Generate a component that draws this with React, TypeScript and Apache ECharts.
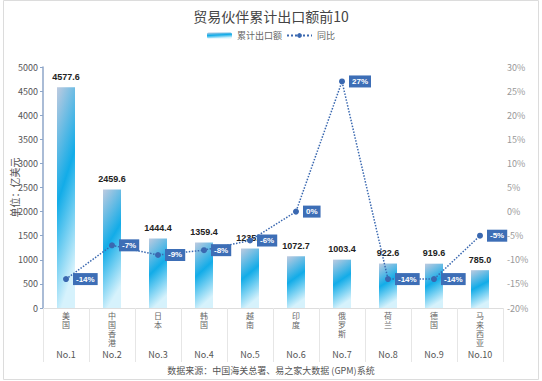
import React, { useEffect, useRef } from "react";
import * as echarts from "echarts";

const countries = ["美国", "中国香港", "日本", "韩国", "越南", "印度", "俄罗斯", "荷兰", "德国", "马来西亚"];
const ranks = ["No.1", "No.2", "No.3", "No.4", "No.5", "No.6", "No.7", "No.8", "No.9", "No.10"];
const exportValues = [4577.6, 2459.6, 1444.4, 1359.4, 1235.6, 1072.7, 1003.4, 922.6, 919.6, 785.0];
const yoyValues = [-14, -7, -9, -8, -6, 0, 27, -14, -14, -5];

export default function App() {
  const ref = useRef<HTMLDivElement>(null);
  useEffect(() => {
    document.body.style.margin = "0";
    const chart = echarts.init(ref.current!, undefined, { renderer: "svg" });
    const font = "'Noto Sans CJK SC', 'Noto Sans', sans-serif";
    const barGrad = new echarts.graphic.LinearGradient(0, 0, 0.25, 1, [
      { offset: 0, color: "#bfcbe0" },
      { offset: 0.5, color: "#12ace8" },
      { offset: 1, color: "#d6f2fc" },
    ]);
    chart.setOption({
      animation: false,
      textStyle: { fontFamily: font },
      title: {
        text: "贸易伙伴累计出口额前10",
        left: "center",
        top: 4,
        textStyle: { fontSize: 14, fontWeight: "normal", color: "#444", fontFamily: font },
      },
      legend: {
        top: 26,
        left: "center",
        itemWidth: 25,
        itemHeight: 6,
        itemGap: 4,
        textStyle: { fontSize: 9, color: "#666" },
        data: ["累计出口额", "同比"],
      },
      graphic: [
        {
          type: "rect",
          shape: { x: 3.5, y: 0.5, width: 535, height: 379 },
          style: { fill: "none", stroke: "#dcdcdc", lineWidth: 1 },
          silent: true,
        },
        {
          type: "text",
          left: "center",
          top: 366,
          style: {
            text: "数据来源：中国海关总署、易之家大数据 (GPM)系统",
            fontSize: 9,
            fill: "#555",
            fontFamily: font,
          },
        },
      ],
      grid: { left: 43, right: 39, top: 67, bottom: 73, outerBoundsMode: "none", containLabel: false },
      xAxis: [
        {
          type: "category",
          data: countries,
          axisLine: { lineStyle: { color: "#ddd" } },
          axisTick: { show: true, length: 54, lineStyle: { color: "#e6e6e6" } },
          axisLabel: {
            interval: 0,
            rotate: 0,
            hideOverlap: false,
            margin: 3,
            fontSize: 8,
            lineHeight: 9,
            color: "#666",
            verticalAlign: "top",
            formatter: (v: string) => v.split("").join("\n"),
          },
        },
        {
          type: "category",
          data: ranks,
          position: "bottom",
          offset: 40,
          axisLine: { show: false },
          axisTick: { show: false },
          axisLabel: { interval: 0, margin: 2, fontSize: 9, color: "#555" },
        },
      ],
      yAxis: [
        {
          type: "value",
          min: 0,
          max: 5000,
          interval: 500,
          name: "单位：亿美元",
          nameLocation: "middle",
          nameGap: 24,
          nameMoveOverlap: false,
          nameTextStyle: { fontSize: 10, color: "#555" },
          axisLine: { show: true, lineStyle: { color: "#8ea6c9", width: 1.5 } },
          axisTick: { show: true, length: 3, lineStyle: { color: "#8ea6c9" } },
          axisLabel: { fontSize: 9, color: "#555", margin: 5, formatter: (v: number) => String(v) },
          splitLine: { show: false },
        },
        {
          type: "value",
          min: -20,
          max: 30,
          interval: 5,
          position: "right",
          axisLine: { show: false },
          axisTick: { show: false },
          axisLabel: { fontSize: 9, color: "#999", margin: 4, formatter: "{value}%" },
          splitLine: { show: false },
        },
      ],
      series: [
        {
          name: "累计出口额",
          type: "bar",
          xAxisIndex: 0,
          yAxisIndex: 0,
          barWidth: 18,
          data: exportValues,
          itemStyle: { color: barGrad },
          label: {
            show: true,
            position: "top",
            distance: 6,
            fontSize: 9,
            fontWeight: "bold",
            color: "#222",
            fontFamily: "'Liberation Sans', Arial, sans-serif",
            formatter: (p: any) => Number(p.value).toFixed(1),
          },
        },
        {
          name: "同比",
          type: "line",
          xAxisIndex: 0,
          yAxisIndex: 1,
          data: yoyValues,
          symbol: "circle",
          symbolSize: 6,
          itemStyle: { color: "#3a68b0" },
          lineStyle: { color: "#3a68b0", width: 1.5, type: "dotted" },
          z: 5,
          label: {
            show: true,
            position: "right",
            distance: 4,
            fontSize: 8,
            fontWeight: "bold",
            color: "#fff",
            backgroundColor: "#3d6eb6",
            padding: [2, 3],
            fontFamily: "'Liberation Sans', Arial, sans-serif",
            formatter: (p: any) => p.value + "%",
          },
        },
      ],
    });
    return () => chart.dispose();
  }, []);
  return <div ref={ref} style={{ width: 542, height: 381, position: "absolute", left: 0, top: 0 }} />;
}
